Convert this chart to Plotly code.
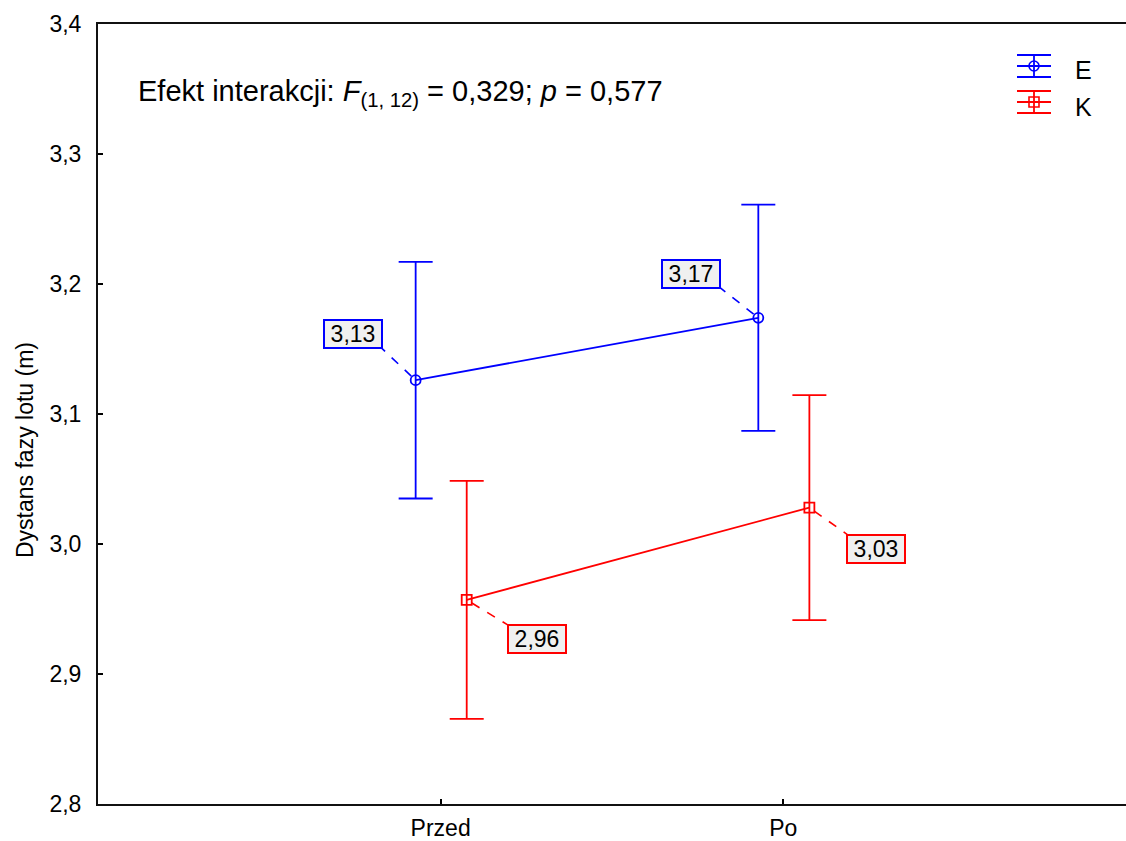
import math
import plotly.graph_objects as go

# ---- data -------------------------------------------------------------
phases = ["Przed", "Po"]
groups = ["E", "K"]
means_E = [3.126, 3.174]
ci_E = [0.091, 0.087]
means_K = [2.957, 3.028]
ci_K = [0.0915, 0.0865]
y_ticks = [2.8, 2.9, 3.0, 3.1, 3.2, 3.3, 3.4]
effect_text = "Efekt interakcji: <i>F</i><sub>(1, 12)</sub> = 0,329; <i>p</i> = 0,577"
y_title = "Dystans fazy lotu (m)"

# ---- styling ----------------------------------------------------------
FONT = "Liberation Sans, Arial, sans-serif"
W, H = 1126, 841
ML, MR, MT, MB = 98, 0, 24, 37
PW, PH = W - ML - MR, H - MT - MB

series = [
    dict(name="E", means=means_E, ci=ci_E, color="#0000ff", symbol="circle-open",
         shift=-0.073, label_off=[(-63, 46), (-67, 44)], lead_to=[(-34, 32), (-38, 30)]),
    dict(name="K", means=means_K, ci=ci_K, color="#ff0000", symbol="square-open",
         shift=0.076, label_off=[(70, -39), (67, -41)], lead_to=[(41, -25), (38, -27)]),
]


def px_x(p):
    return (p - ML) / PW


def px_y(p):
    return (MT + PH - p) / PH


fig = go.Figure()
shapes = []
annotations = []

for s in series:
    xs = [i + s["shift"] for i in range(len(phases))]
    fig.add_trace(go.Scatter(
        x=xs, y=s["means"], name=s["name"], mode="lines+markers",
        line=dict(color=s["color"], width=1.8),
        marker=dict(symbol=s["symbol"], size=10, color=s["color"],
                    line=dict(width=1.8, color=s["color"])),
        error_y=dict(type="data", array=s["ci"], symmetric=True,
                     color=s["color"], thickness=1.8, width=17),
        showlegend=False,
    ))
    for x, m, (lx, ly), (tx, ty) in zip(xs, s["means"], s["label_off"], s["lead_to"]):
        annotations.append(dict(
            x=x, y=m, xref="x", yref="y", showarrow=False,
            text=f"{m:.2f}".replace(".", ","),
            xshift=lx, yshift=ly, width=54, height=24,
            font=dict(family=FONT, size=23, color="#000000"),
            bgcolor="#f0f0f0", bordercolor=s["color"], borderwidth=2, borderpad=1,
        ))
        d = math.hypot(tx, ty)
        shapes.append(dict(
            type="line", xref="x", yref="y", xsizemode="pixel", ysizemode="pixel",
            xanchor=x, yanchor=m,
            x0=tx * 6 / d, y0=ty * 6 / d, x1=tx, y1=ty,
            line=dict(color=s["color"], width=1.6, dash="dash"),
        ))

# legend drawn as error-bar glyphs
legend_rows = [(66, 70), (102, 107)]
for s, (gy, ty) in zip(series, legend_rows):
    c = s["color"]
    cx = 1034
    for dy in (-11, 0, 11):
        shapes.append(dict(type="line", xref="paper", yref="paper",
                           x0=px_x(cx - 17), x1=px_x(cx + 17), y0=px_y(gy + dy), y1=px_y(gy + dy),
                           line=dict(color=c, width=1.8)))
    shapes.append(dict(type="line", xref="paper", yref="paper",
                       x0=px_x(cx), x1=px_x(cx), y0=px_y(gy - 11), y1=px_y(gy + 11),
                       line=dict(color=c, width=1.8)))
    shapes.append(dict(type="circle" if s["name"] == "E" else "rect",
                       xref="paper", yref="paper", xsizemode="pixel", ysizemode="pixel",
                       xanchor=px_x(cx), yanchor=px_y(gy), x0=-5, x1=5, y0=-5, y1=5,
                       line=dict(color=c, width=1.6)))
    annotations.append(dict(x=px_x(1073), y=px_y(ty), xref="paper", yref="paper",
                            xanchor="left", yanchor="middle", showarrow=False,
                            text=s["name"], font=dict(family=FONT, size=25, color="#000000")))

annotations.append(dict(x=px_x(136), y=px_y(93), xref="paper", yref="paper",
                        xanchor="left", yanchor="middle", showarrow=False,
                        text=effect_text, font=dict(family=FONT, size=29, color="#000000")))
annotations.append(dict(x=0, y=px_y(450), xref="paper", yref="paper", xshift=-73,
                        xanchor="center", yanchor="middle", showarrow=False, textangle=-90,
                        text=y_title, font=dict(family=FONT, size=23, color="#000000")))

fig.update_layout(
    width=W, height=H,
    margin=dict(l=ML, r=MR, t=MT, b=MB, pad=0, autoexpand=False),
    paper_bgcolor="white", plot_bgcolor="white",
    separators=", ",
    font=dict(family=FONT, size=23, color="#000000"),
    shapes=shapes, annotations=annotations, showlegend=False,
    xaxis=dict(range=[-1, 2], tickmode="array", tickvals=list(range(len(phases))),
               ticktext=phases, ticks="inside", ticklen=5, tickwidth=1.5, tickcolor="#000",
               showline=True, linecolor="#111", linewidth=2, mirror=True, automargin=False,
               showgrid=False, zeroline=False, ticklabelstandoff=2),
    yaxis=dict(range=[y_ticks[0], y_ticks[-1]], tickmode="array", tickvals=y_ticks,
               tickformat=".1f", ticks="inside", ticklen=5, tickwidth=1.5, tickcolor="#000",
               showline=True, linecolor="#111", linewidth=2, mirror=False, automargin=False,
               showgrid=False, zeroline=False, ticklabelstandoff=10),
    yaxis2=dict(range=[y_ticks[0], y_ticks[-1]], tickmode="array", tickvals=y_ticks,
                overlaying="y", side="right", anchor="x", ticks="inside", ticklen=5,
                tickwidth=1.5, tickcolor="#000", showticklabels=False, automargin=False,
                showline=False, showgrid=False, zeroline=False),
)

fig.write_html("out.html")
